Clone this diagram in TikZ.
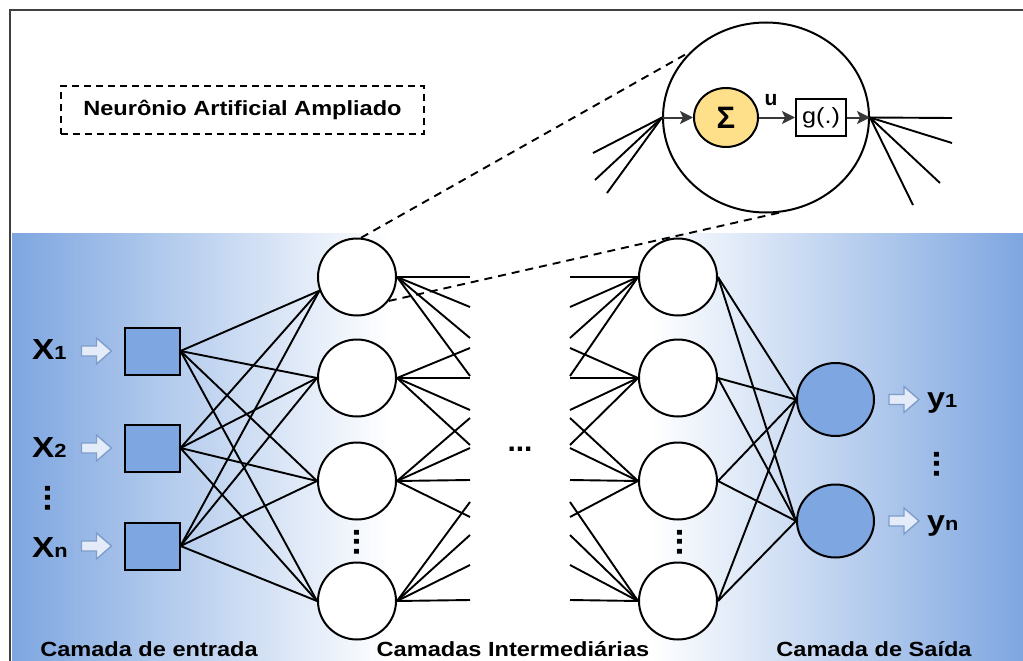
\documentclass[tikz,border=0pt]{standalone}
\usepackage{fontspec}
\usepackage{graphicx}
\setmainfont{Liberation Sans}
\usetikzlibrary{shapes.geometric, arrows.meta}

\definecolor{bandblue}{HTML}{7EA6E0}
\definecolor{boxblue}{HTML}{7EA6E0}
\definecolor{sumfill}{HTML}{FFE08A}
\definecolor{arrfill}{HTML}{E3ECF8}
\definecolor{arrline}{HTML}{7F9DCB}
\definecolor{inkgray}{HTML}{383838}

% slightly widened lettering
\newcommand{\wide}[1]{\scalebox{1.15}[1]{#1}}
% hollow block arrow whose tip sits at the given point
\newcommand{\hollowarrow}[1]{%
  \draw[hollow] (#1) ++(-30,-5) -- ++(15,0) -- ++(0,-8) -- ++(15,13)
    -- ++(-15,13) -- ++(0,-8) -- ++(-15,0) -- cycle;}

\begin{document}
\begin{tikzpicture}[x=1pt, y=-1pt,
  link/.style={line width=1.9pt, black},
  neuron/.style={ellipse, draw=black, line width=2pt, fill=white,
    minimum width=78pt, minimum height=77pt, inner sep=0pt},
  outneuron/.style={neuron, fill=boxblue, minimum width=77pt, minimum height=73pt},
  inbox/.style={rectangle, draw=black, line width=2pt, fill=boxblue,
    minimum width=55pt, minimum height=47pt, inner sep=0pt},
  txt/.style={font=\fontsize{20.5}{24}\selectfont\bfseries, inner sep=0pt},
  hollow/.style={draw=arrline, fill=arrfill, line width=1.4pt, line join=miter},
  vdots/.style={rotate=90, font=\fontsize{34}{34}\selectfont\bfseries, inner sep=0pt},
  zoomarrow/.style={line width=2pt, draw=inkgray,
    -{Stealth[length=13pt,width=13pt,inset=3pt]}},
  zoomdash/.style={line width=1.9pt, dash pattern=on 8pt off 6pt},
]
\clip (0,0) rectangle (1023,661);

% shaded band behind the network
\shade[left color=bandblue, right color=white] (12,233) rectangle (390,661);
\shade[left color=white, right color=bandblue] (650,233) rectangle (1023,661);

% outer frame
\draw[line width=2.6pt, black!75] (10,10) rectangle (1040,680);

% caption box
\node[draw=black, line width=1.9pt, dash pattern=on 7pt off 5pt,
  minimum width=363pt, minimum height=48pt, txt] (title) at (242.5,110)
  {\wide{Neurônio Artificial Ampliado}};

% enlarged neuron
\node[ellipse, draw=black, line width=2pt, minimum width=206pt,
  minimum height=190pt, inner sep=0pt] (zoom) at (766,117.5) {};
\node[ellipse, draw=black, line width=2pt, fill=sumfill, minimum width=64pt,
  minimum height=59pt, inner sep=0pt, font=\fontsize{31}{31}\selectfont\bfseries]
  (sum) at (726,117.5) {Σ};
\node[draw=black, line width=2pt, minimum width=50pt, minimum height=37pt,
  inner sep=0pt, font=\fontsize{22}{22}\selectfont] (act) at (821,117.5) {\wide{g(.)}};
\node[anchor=base, inner sep=0pt, font=\fontsize{21}{21}\selectfont\bfseries]
  (ulab) at (771,106) {u};
\draw[zoomarrow] (zoom.west) -- (sum.west);
\draw[zoomarrow] (sum.east) -- (act.west);
\draw[zoomarrow] (act.east) -- (zoom.east);

\coordinate (zi1) at (593,153);
\coordinate (zi2) at (595,180);
\coordinate (zi3) at (607,193);
\foreach \c in {zi1,zi2,zi3} \draw[link] (\c) -- (zoom.west);
\coordinate (zo1) at (952,118);
\coordinate (zo2) at (952,143);
\coordinate (zo3) at (940,183);
\coordinate (zo4) at (913,205);
\foreach \c in {zo1,zo2,zo3,zo4} \draw[link] (zoom.east) -- (\c);

% input layer
\node[inbox] (in1) at (152,351) {};
\node[inbox] (in2) at (152,448) {};
\node[inbox] (in3) at (152,546) {};

% first hidden layer
\node[neuron] (ha) at (357,277) {};
\node[neuron] (hb) at (357,378) {};
\node[neuron] (hc) at (357,481) {};
\node[neuron] (hd) at (357,601) {};

% last hidden layer
\node[neuron] (ga) at (678,277) {};
\node[neuron] (gb) at (678,378) {};
\node[neuron] (gc) at (678,481) {};
\node[neuron] (gd) at (678,601) {};

% output layer
\node[outneuron] (o1) at (835.5,399.5) {};
\node[outneuron] (o2) at (835.5,521) {};

% input -> first hidden
\foreach \i in {in1,in2,in3} {
  \draw[link] (\i.east) -- (ha.200);
  \draw[link] (\i.east) -- (hb.west);
  \draw[link] (\i.east) -- (hc.west);
  \draw[link] (\i.east) -- (hd.west);
}

% connections leaving the first hidden layer and entering the last one
\foreach \h/\a/\b/\c/\d in {ha/277/307/338/376, hb/348/378/410/445,
                            hc/418/448/480/517, hd/502/535/565/600} {
  \coordinate (L\h1) at (470,\a);
  \coordinate (L\h2) at (470,\b);
  \coordinate (L\h3) at (470,\c);
  \coordinate (L\h4) at (470,\d);
  \foreach \k in {1,2,3,4} \draw[link] (\h.east) -- (L\h\k);
}
\foreach \g/\a/\b/\c/\d in {ga/277/307/338/376, gb/348/378/410/445,
                            gc/418/448/480/517, gd/502/535/565/600} {
  \coordinate (R\g1) at (570,\a);
  \coordinate (R\g2) at (570,\b);
  \coordinate (R\g3) at (570,\c);
  \coordinate (R\g4) at (570,\d);
  \foreach \k in {1,2,3,4} \draw[link] (R\g\k) -- (\g.west);
}

% last hidden -> output
\foreach \g in {ga,gb,gc,gd} {
  \draw[link] (\g.east) -- (o1.west);
  \draw[link] (\g.east) -- (o2.west);
}

% zoom guides
\draw[zoomdash] (ha.84) -- (zoom.139.5);
\draw[zoomdash] (ha.-37) -- (zoom.-82);

% hollow arrows
\hollowarrow{[xshift=-12pt]in1.west}
\hollowarrow{[xshift=-12pt]in2.west}
\hollowarrow{[xshift=-12pt]in3.west}
\hollowarrow{[xshift=44pt]o1.east}
\hollowarrow{[xshift=44pt]o2.east}

% input and output names
\node[anchor=base west, inner sep=0pt] (x1) at (32,359)
  {\wide{\fontsize{29}{29}\selectfont\bfseries X\fontsize{19}{19}\selectfont 1}};
\node[anchor=base west, inner sep=0pt] (x2) at (32,457)
  {\wide{\fontsize{29}{29}\selectfont\bfseries X\fontsize{19}{19}\selectfont 2}};
\node[anchor=base west, inner sep=0pt] (xn) at (32,557)
  {\wide{\fontsize{29}{29}\selectfont\bfseries X\fontsize{19}{19}\selectfont n}};
\node[anchor=base west, inner sep=0pt] (y1) at (927,407)
  {\wide{\fontsize{28}{28}\selectfont\bfseries y\fontsize{19}{19}\selectfont 1}};
\node[anchor=base west, inner sep=0pt] (yn) at (927,530)
  {\wide{\fontsize{28}{28}\selectfont\bfseries y\fontsize{19}{19}\selectfont n}};

% ellipses
\node[vdots] (dx) at (48,498) {...};
\node[vdots] (dh) at (357,542) {...};
\node[vdots] (dg) at (680,542) {...};
\node[vdots] (dy) at (937,464) {...};
\node[inner sep=0pt, font=\fontsize{30}{30}\selectfont\bfseries] (dmid) at (520,449) {...};

% layer names
\node[txt, anchor=base] (lin) at (149,656) {\wide{Camada de entrada}};
\node[txt, anchor=base] (lmid) at (513,656) {\wide{Camadas Intermediárias}};
\node[txt, anchor=base] (lout) at (874,656) {\wide{Camada de Saída}};
\end{tikzpicture}
\end{document}
